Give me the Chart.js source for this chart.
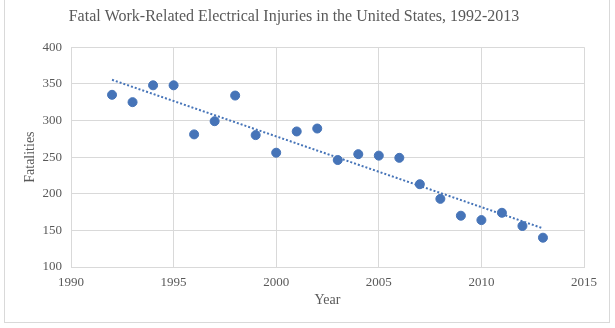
<!DOCTYPE html>
<html>
<head>
<meta charset="utf-8">
<script src="https://cdn.jsdelivr.net/npm/chart.js@4"></script>
<style>
  body { margin: 0; background: #fff; }
  #wrap { width: 615px; height: 328px; }
</style>
</head>
<body>
<div id="wrap"><canvas id="injuries" width="615" height="328"></canvas></div>
<script>
var years = [1992, 1993, 1994, 1995, 1996, 1997, 1998, 1999, 2000, 2001, 2002,
             2003, 2004, 2005, 2006, 2007, 2008, 2009, 2010, 2011, 2012, 2013]
var fatalities = [335, 325, 348, 348, 281, 299, 334, 280, 256, 285, 289,
                  246, 254, 252, 249, 213, 193, 170, 164, 174, 156, 140]
var xTicks = [1990, 2015, 5]
var yTicks = [100, 400, 50]

var points = []
for (let i in years) {
    points.push({x: years[i], y: fatalities[i]})
}

// linear trendline (least squares), like the spreadsheet one
var n = years.length, sx = 0, sy = 0, sxy = 0, sxx = 0
for (let i = 0; i < n; i++) {
    sx += years[i]; sy += fatalities[i]
    sxy += years[i] * fatalities[i]; sxx += years[i] * years[i]
}
var slope = (n * sxy - sx * sy) / (n * sxx - sx * sx)
var icpt = (sy - slope * sx) / n
var first = years[0], last = years[n - 1]
var trend = [{x: first, y: icpt + slope * first}, {x: last, y: icpt + slope * last}]

var grey = '#595959'
var gridCol = '#d9d9d9'
var blue = '#4674b8'

var frame = {
    id: 'frame',
    beforeDraw(chart) {
        var ctx = chart.ctx
        ctx.save()
        ctx.fillStyle = '#fff'
        ctx.fillRect(0, 0, chart.width, chart.height)
        ctx.strokeStyle = gridCol
        ctx.lineWidth = 1
        ctx.strokeRect(4.5, -2, 605, 324.5)
        ctx.restore()
    }
}

new Chart('injuries', {
    type: 'scatter',
    data: {
        datasets: [{
            data: points,
            backgroundColor: blue,
            borderColor: blue,
            pointRadius: 4.5,
            order: 1
        }, {
            data: trend,
            showLine: true,
            borderColor: blue,
            borderWidth: 2,
            borderDash: [2, 2],
            pointRadius: 0,
            order: 2
        }]
    },
    options: {
        responsive: false,
        animation: false,
        layout: { padding: { left: 4, right: 31, top: 0, bottom: 15 } },
        plugins: {
            legend: { display: false },
            tooltip: { enabled: false },
            title: {
                display: true,
                text: 'Fatal Work-Related Electrical Injuries in the United States, 1992-2013',
                color: grey,
                font: { family: 'Liberation Serif', size: 16, weight: 'normal' },
                padding: { top: 7, bottom: 21 }
            }
        },
        scales: {
            x: {
                min: xTicks[0], max: xTicks[1],
                ticks: { stepSize: xTicks[2], color: grey, padding: 8,
                         font: { family: 'Liberation Serif', size: 13 },
                         callback: v => String(v) },
                grid: { color: gridCol, drawTicks: false },
                border: { color: gridCol },
                title: { display: true, text: 'Year', color: grey,
                         font: { family: 'Liberation Serif', size: 14 }, padding: { top: 0, bottom: 4 } },
                afterFit(s) { s.height = 46 }
            },
            y: {
                min: yTicks[0], max: yTicks[1],
                ticks: { stepSize: yTicks[2], color: grey, padding: 9,
                         font: { family: 'Liberation Serif', size: 13 } },
                grid: { color: gridCol, drawTicks: false },
                border: { color: gridCol },
                title: { display: true, text: 'Fatalities', color: grey,
                         font: { family: 'Liberation Serif', size: 14 }, padding: { top: 18, bottom: 0 } },
                afterFit(s) { s.width = 67 }
            }
        }
    },
    plugins: [frame]
})
</script>
</body>
</html>
